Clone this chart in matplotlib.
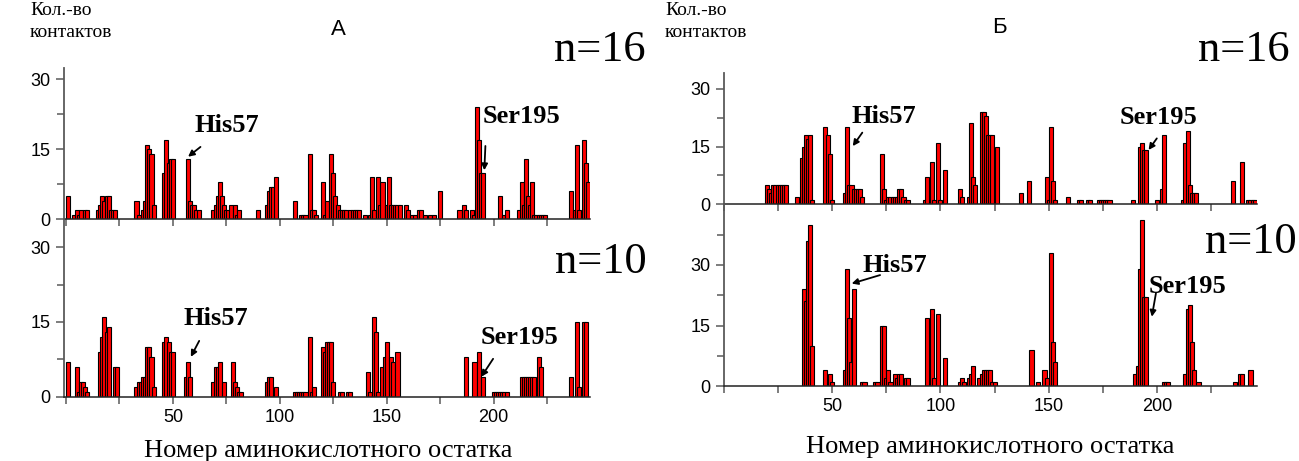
import matplotlib
matplotlib.use("Agg")
import matplotlib.pyplot as plt
from matplotlib.ticker import MultipleLocator

# -----------------------------
# data: residue number -> number of contacts
# -----------------------------
# panel A, n=16
res_a16 = [1, 4, 5, 6, 7, 9, 10,
           15, 16, 17, 18, 19, 20, 21, 22, 23,
           33, 34, 36, 37, 38, 39, 40, 41,
           46, 47, 48, 49, 50,
           57, 58, 59, 60, 61, 62,
           69, 70, 71, 72, 73, 74, 75, 76, 77, 79, 80, 81,
           90, 94, 95, 96, 97, 98,
           107, 110, 111, 112, 114, 115, 116, 117,
           120, 121, 122, 124, 125, 126, 127,
           128, 129, 130, 131, 133, 134, 135, 136, 137,
           140, 142, 143, 144, 146, 147, 148, 150, 151, 152, 153, 154, 155, 156,
           159, 160, 162, 163, 165, 166, 168, 170, 172, 175,
           184, 186, 187, 190, 191, 192, 193, 194, 195,
           203, 205, 206,
           212, 213, 214, 215, 216, 217, 218, 219, 220, 221, 222, 223, 224,
           236, 238, 239, 240, 242, 243, 244]
cnt_a16 = [5, 1, 2, 1, 2, 2, 2,
           2, 3, 5, 4, 5, 5, 2, 2, 2,
           4, 1, 2, 4, 16, 15, 14, 3,
           10, 17, 12, 13, 13,
           13, 4, 3, 3, 2, 2,
           2, 3, 5, 8, 5, 3, 2, 2, 3, 3, 1, 2,
           2, 3, 6, 7, 7, 9,
           4, 1, 1, 1, 14, 2, 2, 1,
           8, 1, 4, 14, 10, 5, 3,
           2, 2, 2, 2, 2, 2, 2, 2, 2,
           1, 1, 9, 2, 9, 3, 8, 3, 9, 3, 3, 3, 3, 3,
           3, 2, 1, 1, 2, 2, 1, 1, 1, 6,
           2, 3, 2, 2, 1, 24, 17, 10, 10,
           5, 1, 2,
           2, 8, 3, 13, 5, 3, 8, 1, 1, 1, 1, 1, 1,
           6, 2, 16, 2, 17, 12, 8]

# panel A, n=10
res_a10 = [1, 5, 6, 7, 8, 9, 10,
           16, 17, 18, 19, 20, 23, 24,
           33, 34, 35, 36, 37, 38, 39, 40, 41,
           46, 47, 48, 49, 50,
           56, 57, 58,
           69, 70, 71, 72, 74, 78, 79, 80, 81, 82,
           94, 95, 96, 98,
           107, 108, 109, 110, 111, 112, 114, 115, 116,
           120, 121, 122, 123, 124, 125, 128, 129, 132, 133,
           141, 142, 144, 145, 146, 148, 149, 150, 152, 153, 155,
           187, 191, 193, 195,
           200, 201, 202, 203, 204, 205, 206,
           213, 214, 215, 216, 217, 218, 219, 221, 222,
           236, 239, 240, 242, 243]
cnt_a10 = [7, 6, 1, 3, 3, 2, 1,
           9, 12, 16, 13, 14, 6, 6,
           2, 3, 3, 4, 4, 10, 10, 8, 2,
           11, 12, 11, 9, 9,
           4, 7, 4,
           3, 6, 6, 7, 3, 7, 3, 2, 1, 1,
           3, 4, 4, 2,
           1, 1, 1, 1, 1, 1, 12, 1, 2,
           10, 9, 11, 11, 11, 3, 1, 1, 1, 1,
           5, 1, 16, 13, 1, 6, 8, 11, 8, 7, 9,
           8, 7, 9, 4,
           1, 1, 1, 1, 1, 1, 1,
           4, 4, 4, 4, 4, 4, 4, 8, 6,
           4, 15, 2, 15, 15]

# panel B, n=16
res_b16 = [20, 21, 22, 23, 24, 25, 26, 27, 28, 29,
           34, 36, 37, 38, 39, 40, 41,
           47, 48, 49, 50,
           56, 57, 58, 59, 60, 61, 62, 63, 64,
           73, 74, 75, 76, 77, 78, 79, 80, 81, 82, 83, 84, 85,
           93, 94, 96, 97, 99, 100, 102,
           109, 110, 113, 114, 115, 116,
           119, 120, 121, 122, 123, 124, 126,
           137, 141, 149, 150, 151, 152, 153, 159,
           164, 165, 168, 169, 173, 174, 175, 176, 177, 178,
           189, 192, 193, 194, 195,
           200, 202, 203,
           212, 213, 214, 215, 216, 217, 218,
           235, 239, 242, 243, 244, 245]
cnt_b16 = [5, 4, 3, 5, 5, 5, 5, 5, 5, 5,
           2, 12, 15, 18, 17, 18, 1,
           20, 18, 13, 1,
           3, 20, 5, 5, 4, 4, 4, 4, 2,
           13, 4, 1, 2, 2, 2, 2, 2, 4, 4, 2, 1, 1,
           1, 7, 11, 1, 16, 1, 9,
           4, 2, 2, 21, 7, 5,
           24, 24, 23, 18, 18, 18, 15,
           3, 6, 7, 1, 20, 6, 1, 2,
           1, 1, 1, 1, 1, 1, 1, 1, 1, 1,
           1, 15, 16, 14, 14,
           1, 4, 18,
           1, 16, 19, 5, 3, 3, 3,
           6, 11, 1, 1, 1, 1]

# panel B, n=10
res_b10 = [37, 38, 39, 40, 41,
           47, 49, 50,
           56, 57, 58, 59, 60, 64, 65,
           70, 71, 73, 74, 75, 76, 77, 79, 80, 81, 82, 84, 85,
           94, 96, 97, 99, 102,
           109, 110, 111, 113, 114, 115, 118, 119, 120, 121, 122, 123, 124, 125,
           142, 145, 148, 149, 151, 152, 153,
           190, 191, 192, 193, 194, 195,
           203, 204, 205,
           213, 214, 215, 216, 217, 219,
           236, 238, 239, 243]
cnt_b10 = [24, 21, 36, 40, 10,
           4, 3, 1,
           4, 29, 17, 6, 24, 1, 1,
           1, 1, 15, 15, 2, 4, 1, 3, 2, 3, 3, 2, 2,
           17, 19, 2, 18, 7,
           1, 2, 1, 2, 3, 5, 2, 3, 4, 4, 4, 4, 1, 1,
           9, 1, 4, 2, 33, 11, 6,
           3, 5, 29, 41, 22, 22,
           1, 1, 1,
           3, 19, 20, 11, 4, 1,
           1, 3, 3, 4]

y_title = "Кол.-во\nконтактов"
x_title = "Номер аминокислотного остатка"

# -----------------------------
# figure
# -----------------------------
W, H = 1299, 461
fig = plt.figure(figsize=(W / 100, H / 100), dpi=100)

SERIF = ["Liberation Serif", "DejaVu Serif"]
SANS = ["Liberation Sans", "DejaVu Sans"]
AX_COL = "#5a5a5a"


def box(l, t, r, b):
    # pixel box (top-left origin) -> figure rect
    return [l / W, 1 - b / H, (r - l) / W, (b - t) / H]


def fx(px):
    return px / W


def fy(py):
    return 1 - py / H


def bars(ax, res, cnt, xlim, ylim, minor_y, show_xlabels):
    ax.bar(res, cnt, width=1.9, color="#ff0000", edgecolor="black",
           linewidth=0.8, align="center", zorder=2)
    ax.set_xlim(*xlim)
    ax.set_ylim(*ylim)
    ax.spines["top"].set_visible(False)
    ax.spines["right"].set_visible(False)
    ax.spines["left"].set_color(AX_COL)
    ax.spines["left"].set_linewidth(1.3)
    ax.spines["bottom"].set_color("#222222")
    ax.spines["bottom"].set_linewidth(1.1)
    ax.set_yticks([0, 15, 30])
    ax.set_yticks(minor_y, minor=True)
    ax.xaxis.set_major_locator(MultipleLocator(50))
    ax.xaxis.set_minor_locator(MultipleLocator(25))
    ax.tick_params(which="both", direction="out", color=AX_COL, width=1.1)
    ax.tick_params(which="major", length=6)
    ax.tick_params(which="minor", length=5)
    ax.tick_params(axis="x", which="both", length=5)
    for lab in ax.get_yticklabels() + ax.get_xticklabels():
        lab.set_fontfamily(SANS)
        lab.set_fontsize(13)
    if show_xlabels:
        ax.set_xticks([50, 100, 150, 200])
        ax.set_xticklabels(["50", "100", "150", "200"], fontfamily=SANS, fontsize=13)
    else:
        ax.set_xticklabels([])
    ax.patch.set_alpha(0)


def mark(ax, name, txt_xy, tail, head):
    ax.annotate("", xy=head, xytext=tail,
                arrowprops=dict(arrowstyle="-|>", color="black", lw=1.3,
                                mutation_scale=9, shrinkA=0, shrinkB=0),
                zorder=5)
    ax.text(txt_xy[0], txt_xy[1], name, fontfamily=SERIF, fontweight="bold",
            fontsize=19, va="baseline", ha="left", zorder=5)


# panel A
axA1 = fig.add_axes(box(64, 68, 590, 219.3))
bars(axA1, res_a16, cnt_a16, (-0.9, 245), (0, 32.4), [7.5, 22.5], False)
mark(axA1, "His57", (60.3, 18.7), (62.9, 15.5), (57.1, 13.4))
mark(axA1, "Ser195", (194.9, 20.6), (196.1, 15.7), (195.6, 10.5))

axA2 = fig.add_axes(box(64, 219.3, 590, 396.7))
bars(axA2, res_a10, cnt_a10, (-0.9, 245), (0, 35.6), [7.5, 22.5], True)
mark(axA2, "His57", (54.9, 14.4), (62.3, 11.2), (58.4, 8.0))
mark(axA2, "Ser195", (193.8, 10.6), (199.7, 7.6), (194.2, 4.0))

# panel B
axB1 = fig.add_axes(box(723.5, 73.3, 1257, 204.3))
bars(axB1, res_b16, cnt_b16, (0, 246), (0, 34), [7.5, 22.5], False)
mark(axB1, "His57", (59.1, 21.0), (64.0, 18.6), (59.6, 15.1))
mark(axB1, "Ser195", (182.6, 20.9), (199.8, 17.1), (196.0, 14.1))

axB2 = fig.add_axes(box(723.5, 204.3, 1257, 386.3))
bars(axB2, res_b10, cnt_b10, (0, 246), (0, 45), [7.5, 22.5, 37.5], True)
mark(axB2, "His57", (64.0, 28.3), (72.2, 27.5), (59.1, 25.4))
mark(axB2, "Ser195", (195.9, 23.1), (199.4, 23.0), (197.5, 17.2))

# -----------------------------
# labels
# -----------------------------
fig.text(fx(30), fy(2), y_title, fontfamily=SERIF, fontsize=14,
         va="top", ha="left", linespacing=1.35)
fig.text(fx(665), fy(2), y_title, fontfamily=SERIF, fontsize=14,
         va="top", ha="left", linespacing=1.35)

fig.text(fx(338), fy(35), "А", fontfamily=SANS, fontsize=16, ha="center", va="baseline")
fig.text(fx(999), fy(33), "Б", fontfamily=SANS, fontsize=16, ha="center", va="baseline")

fig.text(fx(646), fy(61), "n=16", fontfamily=SERIF, fontsize=32, ha="right", va="baseline")
fig.text(fx(647), fy(273), "n=10", fontfamily=SERIF, fontsize=32, ha="right", va="baseline")
fig.text(fx(1290), fy(61), "n=16", fontfamily=SERIF, fontsize=32, ha="right", va="baseline")
fig.text(fx(1297), fy(253), "n=10", fontfamily=SERIF, fontsize=32, ha="right", va="baseline")

fig.text(fx(328), fy(457), x_title, fontfamily=SERIF, fontsize=19, ha="center", va="baseline")
fig.text(fx(990), fy(453), x_title, fontfamily=SERIF, fontsize=19, ha="center", va="baseline")

fig.savefig("out.png", dpi=100)
